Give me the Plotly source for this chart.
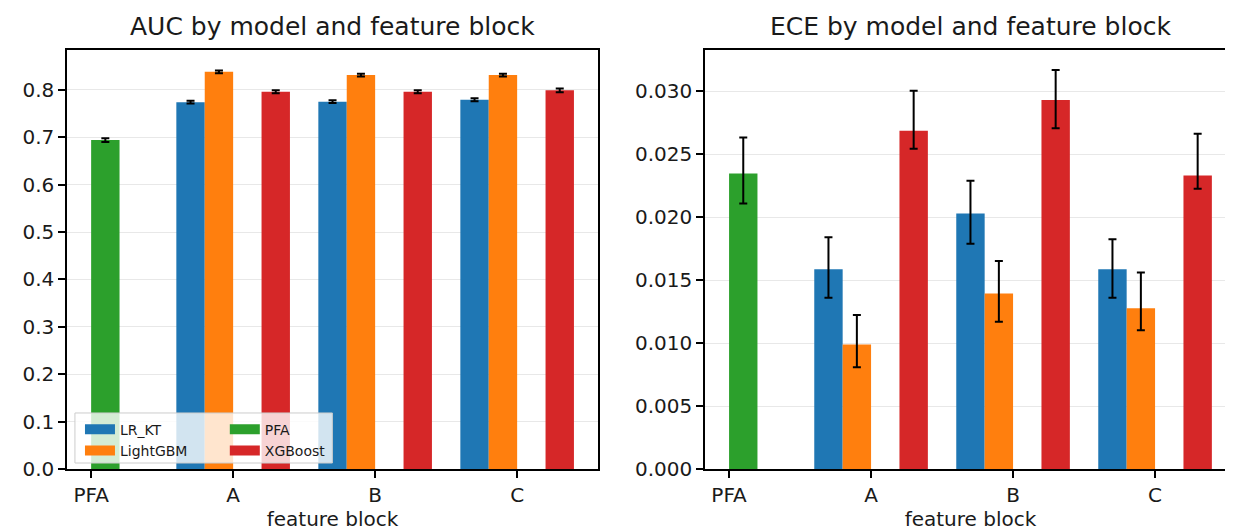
import plotly.graph_objects as go
from plotly.subplots import make_subplots

# ---- data ----
blocks = ["PFA", "A", "B", "C"]
models = ["LR_KT", "LightGBM", "PFA", "XGBoost"]
colors = ["#1f77b4", "#ff7f0e", "#2ca02c", "#d62728"]

auc = {
    "LR_KT":    [None, 0.774, 0.775, 0.779],
    "LightGBM": [None, 0.838, 0.831, 0.831],
    "PFA":      [0.694, None, None, None],
    "XGBoost":  [None, 0.796, 0.796, 0.799],
}
auc_err = {
    "LR_KT":    [None, 0.003, 0.003, 0.003],
    "LightGBM": [None, 0.003, 0.003, 0.003],
    "PFA":      [0.004, None, None, None],
    "XGBoost":  [None, 0.003, 0.003, 0.004],
}

ece = {
    "LR_KT":    [None, 0.01586, 0.02029, 0.01586],
    "LightGBM": [None, 0.00989, 0.01393, 0.01276],
    "PFA":      [0.02347, None, None, None],
    "XGBoost":  [None, 0.02687, 0.02931, 0.02332],
}
ece_lo = {
    "LR_KT":    [None, 0.01361, 0.01790, 0.01361],
    "LightGBM": [None, 0.00809, 0.01170, 0.01103],
    "PFA":      [0.02109, None, None, None],
    "XGBoost":  [None, 0.02544, 0.02706, 0.02225],
}
ece_hi = {
    "LR_KT":    [None, 0.01841, 0.02289, 0.01825],
    "LightGBM": [None, 0.01223, 0.01653, 0.01560],
    "PFA":      [0.02634, None, None, None],
    "XGBoost":  [None, 0.03005, 0.03170, 0.02663],
}

auc_ticks = [0.0, 0.1, 0.2, 0.3, 0.4, 0.5, 0.6, 0.7, 0.8]
ece_ticks = [0.0, 0.005, 0.010, 0.015, 0.020, 0.025, 0.030]

FONT = "DejaVu Sans"
TXT = "#1a1a1a"

fig = make_subplots(rows=1, cols=2, horizontal_spacing=0.0914)

legend_of = {"LR_KT": "legend", "LightGBM": "legend", "PFA": "legend2", "XGBoost": "legend2"}

def diff(a, b):
    return [None if (x is None or y is None) else x - y for x, y in zip(a, b)]

for m, c in zip(models, colors):
    fig.add_trace(go.Bar(
        x=blocks, y=auc[m], name=m, marker=dict(color=c, line=dict(width=0)),
        error_y=dict(type="data", array=auc_err[m], symmetric=True,
                     color="black", thickness=2, width=4),
        showlegend=False,
    ), row=1, col=1)

for m, c in zip(models, colors):
    fig.add_trace(go.Bar(
        x=blocks, y=ece[m], name=m, marker=dict(color=c, line=dict(width=0)),
        error_y=dict(type="data", symmetric=False,
                     array=diff(ece_hi[m], ece[m]),
                     arrayminus=diff(ece[m], ece_lo[m]),
                     color="black", thickness=2, width=4),
        showlegend=False,
    ), row=1, col=2)

# legend proxies (wide patches like matplotlib)
for m, c in zip(models, colors):
    fig.add_trace(go.Scatter(
        x=[None], y=[None], mode="lines", name=m,
        line=dict(color=c, width=10), legend=legend_of[m], showlegend=True,
        hoverinfo="skip",
    ), row=1, col=1)

axis_common = dict(showline=True, linecolor="black", linewidth=1.5, mirror=True,
                   ticks="outside", ticklen=7, tickwidth=1.5, tickcolor="black",
                   tickfont=dict(size=20, color=TXT, family=FONT))

fig.update_xaxes(**axis_common, range=[-0.17, 3.57], showgrid=False,
                 title=dict(text="feature block", font=dict(size=20, color=TXT, family=FONT),
                            standoff=6))
fig.update_yaxes(**axis_common, showgrid=True, gridcolor="#e8e8e8", gridwidth=1.2,
                 zeroline=False)
fig.update_yaxes(range=[0, 0.884], tickvals=auc_ticks, tickformat=".1f", row=1, col=1)
fig.update_yaxes(range=[0, 0.03328], tickvals=ece_ticks, tickformat=".3f", row=1, col=2)

# subplot titles
for txt, xc in [("AUC by model and feature block", 0.2272),
                ("ECE by model and feature block", 0.7728)]:
    fig.add_annotation(text=txt, x=xc, y=1, xref="paper", yref="paper",
                       xanchor="center", yanchor="bottom", yshift=7, showarrow=False,
                       font=dict(size=25, color=TXT, family=FONT))

# legend frame (matplotlib-style, two columns)
fig.add_shape(type="rect", xref="paper", yref="paper",
              x0=0.0068, x1=0.227, y0=0.0143, y1=0.1337,
              fillcolor="rgba(255,255,255,0.8)", line=dict(color="#cccccc", width=1),
              layer="above")

leg_common = dict(bgcolor="rgba(0,0,0,0)", borderwidth=0, orientation="v",
                  font=dict(size=14, color=TXT, family=FONT),
                  tracegroupgap=0, yanchor="top", xanchor="left")

fig.update_layout(
    width=1233, height=531,
    margin=dict(l=59, r=3, t=42, b=70),
    paper_bgcolor="white", plot_bgcolor="white",
    barmode="group", bargap=0.2, bargroupgap=0,
    font=dict(family=FONT, color=TXT),
    legend=dict(**leg_common, x=0.0111, y=0.132),
    legend2=dict(**leg_common, x=0.135, y=0.132),
)

fig.write_html("out.html")
